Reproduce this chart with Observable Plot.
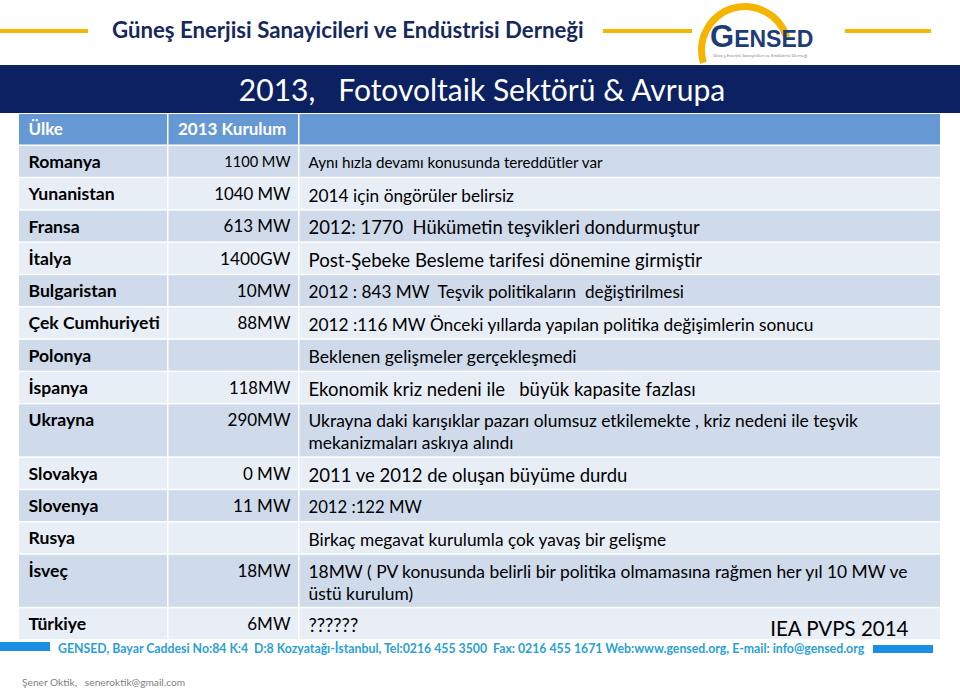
<!DOCTYPE html>
<html>
<head>
<meta charset="utf-8">
<script src="https://cdn.jsdelivr.net/npm/d3@7"></script>
<script src="https://cdn.jsdelivr.net/npm/@observablehq/plot@0.6"></script>
<style>
  html, body { margin: 0; padding: 0; background: #fff; }
  #page { position: relative; width: 960px; height: 692px; overflow: hidden; font-family: Lato, "Open Sans", sans-serif; }
  #header { position: relative; height: 114px; }
  .abs { position: absolute; white-space: pre; }
  .yline { position: absolute; height: 4px; background: #f5b800; }
  #chart { position: relative; height: 527px; }
  #chart svg { display: block; }
  #footer { position: relative; height: 51px; }
  .bbar { position: absolute; height: 9px; background: #1b8fe3; }
</style>
</head>
<body>
<div id="page">
  <div id="header">
    <div class="yline" style="left:0;top:29px;width:88px"></div>
    <div class="abs" style="left:112px;top:16px;font-size:22.2px;font-weight:bold;color:#16295c;line-height:28px">Güneş Enerjisi Sanayicileri ve Endüstrisi Derneği</div>
    <div class="yline" style="left:603px;top:29px;width:89px"></div>
    <div class="yline" style="left:845px;top:29px;width:86px"></div>
    <div class="abs" style="left:698px;top:3px;width:94px;height:94px;border-radius:50%;border:7px solid transparent;border-top-color:#f5b400;border-left-color:#f5b400;transform:rotate(28deg);box-sizing:border-box"></div>
    <div class="abs" style="left:710px;top:22px;font-family:'Liberation Sans Narrow','Arial Narrow','Liberation Sans',sans-serif;font-weight:bold;color:#1d3c78;line-height:30px"><span style="font-size:31px">G</span><span style="font-size:23px">ENSED</span></div>
    <div class="abs" style="left:713px;top:53px;font-size:4.5px;color:#8a8a8a">Güneş Enerjisi Sanayicileri ve Endüstrisi Derneği</div>
    <div class="abs" style="left:0;top:65px;width:960px;height:48px;background:#0c2161"></div>
    <div class="abs" style="left:0;top:65px;width:964px;height:48px;line-height:48px;text-align:center;color:#fff;font-size:30px">2013,   Fotovoltaik Sektörü &amp; Avrupa</div>
  </div>
  <div id="chart"></div>
  <div id="footer">
    <div class="bbar" style="left:0;top:1px;width:50px"></div>
    <div class="abs" style="left:58px;top:1px;font-size:12.3px;font-weight:bold;color:#2a9fd6;line-height:14px">GENSED, Bayar Caddesi No:84 K:4  D:8 Kozyatağı-İstanbul, Tel:0216 455 3500  Fax: 0216 455 1671 Web:www.gensed.org, E-mail: info@gensed.org</div>
    <div class="bbar" style="left:873px;top:4px;width:60px;height:8px"></div>
    <div class="abs" style="left:22px;top:35px;font-size:10.2px;color:#7f7f7f">Şener Oktik,   seneroktik@gmail.com</div>
  </div>
</div>
<script>
// ---------- DATA ----------
const columnHeaders = ["Ülke", "2013 Kurulum", ""];
const countries = ["Romanya", "Yunanistan", "Fransa", "İtalya", "Bulgaristan", "Çek Cumhuriyeti", "Polonya", "İspanya", "Ukrayna", "Slovakya", "Slovenya", "Rusya", "İsveç", "Türkiye"];
const installs2013 = ["1100 MW", "1040 MW", "613 MW", "1400GW", "10MW", "88MW", "", "118MW", "290MW", "0 MW", "11 MW", "", "18MW", "6MW"];
const notes = [
  "Aynı hızla devamı konusunda tereddütler var",
  "2014 için öngörüler belirsiz",
  "2012: 1770  Hükümetin teşvikleri dondurmuştur",
  "Post-Şebeke Besleme tarifesi dönemine girmiştir",
  "2012 : 843 MW  Teşvik politikaların  değiştirilmesi",
  "2012 :116 MW Önceki yıllarda yapılan politika değişimlerin sonucu",
  "Beklenen gelişmeler gerçekleşmedi",
  "Ekonomik kriz nedeni ile   büyük kapasite fazlası",
  "Ukrayna daki karışıklar pazarı olumsuz etkilemekte , kriz nedeni ile teşvik\nmekanizmaları askıya alındı",
  "2011 ve 2012 de oluşan büyüme durdu",
  "2012 :122 MW",
  "Birkaç megavat kurulumla çok yavaş bir gelişme",
  "18MW ( PV konusunda belirli bir politika olmamasına rağmen her yıl 10 MW ve\nüstü kurulum)",
  "??????"
];
const sourceNote = ["IEA PVPS 2014"];

// ---------- LAYOUT / STYLE ----------
const colEdges = [19, 167, 298, 940];
const headerH = 32;
const singleH = 32.3, doubleH = 53.5, gap = 1.5;
const noteFont = [15.2, 17.3, 18.4, 18.6, 17.2, 17.3, 17.6, 18.5, 17.4, 18.5, 16.7, 17.3, 17.4, 18.5];
const installFont = [14.6, 16.8, 16.9, 17.3, 17.2, 17, 17, 16.6, 17, 17, 17, 17, 17, 17];
const headerFill = "#6699d3", darkFill = "#cfdaea", lightFill = "#e8eef6";

const rows = countries.map((c, i) => ({
  i, country: c, install: installs2013[i], note: notes[i],
  lines: notes[i].split("\n").length, nfs: noteFont[i], ifs: installFont[i]
}));
let acc = headerH;
for (const r of rows) { r.top = acc; r.h = r.lines === 1 ? singleH : doubleH; acc += r.h; }

const cells = [];
for (const r of rows) for (let j = 0; j < 3; j++) cells.push({
  x1: colEdges[j] + (j ? gap : 0), x2: colEdges[j + 1], y1: r.top, y2: r.top + r.h - gap,
  fill: r.i % 2 === 0 ? darkFill : lightFill
});
const headCells = columnHeaders.map((t, j) => ({
  text: t, x1: colEdges[j] + (j ? gap : 0), x2: colEdges[j + 1], y1: 0, y2: headerH - gap
}));
const last = rows[rows.length - 1];

const chart = Plot.plot({
  width: 960, height: 527, margin: 0,
  x: {type: "identity", axis: null},
  y: {type: "identity", axis: null},
  style: {fontFamily: "Lato, 'Open Sans', sans-serif", background: "transparent"},
  marks: [
    Plot.rect(headCells, {x1: "x1", x2: "x2", y1: "y1", y2: "y2", fill: headerFill}),
    Plot.rect(cells, {x1: "x1", x2: "x2", y1: "y1", y2: "y2", fill: "fill"}),
    Plot.text(headCells, {x: d => d.x1 + 9, y: d => (d.y1 + d.y2) / 2, text: "text", fill: "white",
      fontWeight: "bold", fontSize: 17, textAnchor: "start", lineAnchor: "middle"}),
    Plot.text(rows, {x: colEdges[0] + 9, y: d => d.top + 15.8, text: "country", fill: "#000",
      fontWeight: "bold", fontSize: 17.6, textAnchor: "start", lineAnchor: "middle"}),
    Plot.text(rows, {x: colEdges[2] - 8, y: d => d.top + 15.8, text: "install", fill: "#000",
      fontSize: "ifs", textAnchor: "end", lineAnchor: "middle"}),
    Plot.text(rows, {x: colEdges[2] + 10, y: d => d.top + (d.h - gap) / 2 + 0.3, text: "note", fill: "#000",
      fontSize: "nfs", textAnchor: "start", lineAnchor: "middle", lineHeight: 1.27}),
    Plot.text(sourceNote, {x: 908, y: last.top + 21, text: d => d, fill: "#000",
      fontSize: 20.5, textAnchor: "end", lineAnchor: "middle"})
  ]
});
document.getElementById("chart").appendChild(chart);
</script>
</body>
</html>
